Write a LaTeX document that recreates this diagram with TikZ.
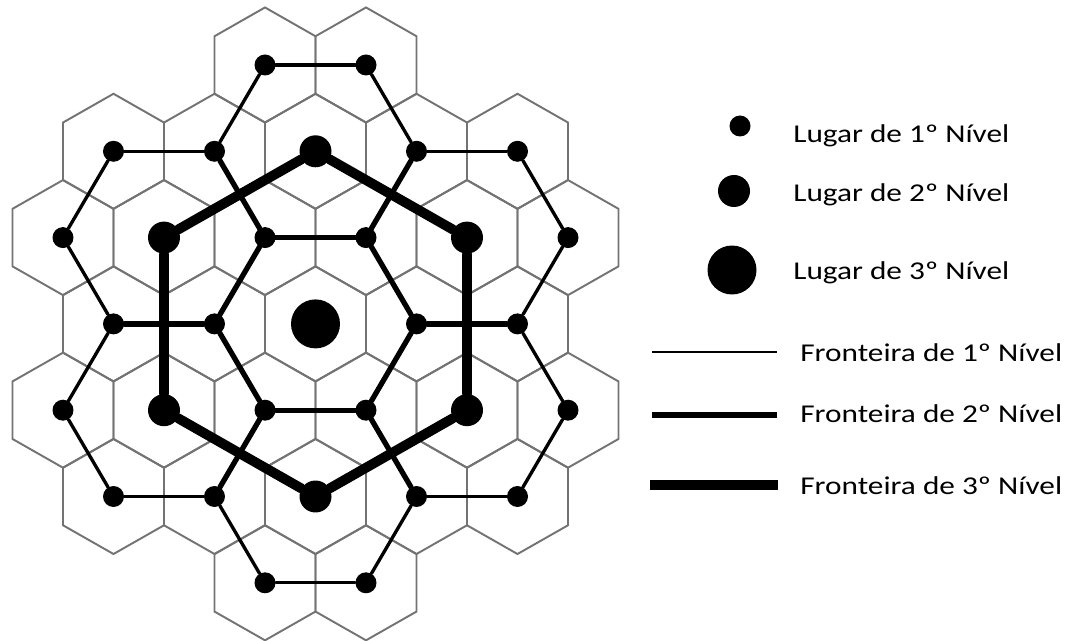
\documentclass[tikz,border=0pt]{standalone}
\usepackage{fontspec}
\setmainfont{Carlito}[FakeStretch=1.22]
\tikzset{
  cell/.style={
    draw=black!55,
    line width=1.1pt
  },
  place/.style={
    shape = circle,
    fill,
    inner sep = 0pt,
    minimum size=0.42cm
  },
  bigplace/.style={
    shape = circle,
    fill,
    inner sep = 0pt,
    minimum size=0.64cm
  },
  verybigplace/.style={
    shape = circle,
    fill,
    inner sep = 0pt,
    minimum size=0.98cm
  },
  border/.style={line width=1.9pt, line cap=round},
  thickborder/.style={line width=3pt, line cap=round},
  verythickborder/.style={line width=5.6pt, line cap=round},
  legend/.style={
    anchor=base west,
    inner sep=0pt,
    font=\fontsize{14.6}{17}\selectfont
  }
}
\begin{document}
\begin{tikzpicture}[x=0.02cm,y=-0.02cm]
            \useasboundingbox (0,0) rectangle (1072,641);
            % cells
            \foreach \a/\b in {4/0,6/0,1/1,3/1,5/1,7/1,9/1,0/2,2/2,4/2,6/2,8/2,10/2,1/3,3/3,5/3,7/3,9/3,0/4,2/4,4/4,6/4,8/4,10/4,1/5,3/5,5/5,7/5,9/5,4/6,6/6}{
                    \draw[cell] ({63+\a*50.5},{65+\b*86.3}) +(50.5,-28.77) -- +(0,-57.53) -- +(-50.5,-28.77) -- +(-50.5,28.77) -- +(0,57.53) -- +(50.5,28.77) -- cycle;
                }
            % places
            \foreach \a/\b in {4/0,6/0,1/1,3/1,7/1,9/1,0/2,4/2,6/2,10/2,1/3,3/3,7/3,9/3,0/4,4/4,6/4,10/4,1/5,3/5,7/5,9/5,4/6,6/6}{
                    \node[place] (p\a-\b) at ({63+\a*50.5},{65+\b*86.3}) {};
                }
            \foreach \a/\b in {5/1,2/2,8/2,2/4,8/4,5/5}{
                    \node[bigplace] (p\a-\b) at ({63+\a*50.5},{65+\b*86.3}) {};
                }
            \node[verybigplace] (p5-3) at ({63+5*50.5},{65+3*86.3}) {};
            % borders
            \foreach \u/\v in {4-0/6-0,6-0/7-1,3-1/4-0,7-1/9-1,9-1/10-2,10-2/9-3,9-3/10-4,10-4/9-5,9-5/7-5,7-5/6-6,6-6/4-6,4-6/3-5,3-5/1-5,1-5/0-4,0-4/1-3,1-3/0-2,0-2/1-1,1-1/3-1}{
                    \draw[border] (p\u) -- (p\v);
                }
            \foreach \u/\v in {4-2/6-2,6-2/7-3,7-3/6-4,6-4/4-4,4-4/3-3,3-3/4-2,4-2/3-1,6-2/7-1,7-3/9-3,6-4/7-5,4-4/3-5,3-3/1-3}{
                    \draw[thickborder] (p\u) -- (p\v);
                }
            \draw[verythickborder] (p5-1) -- (p8-2) -- (p8-4) -- (p5-5) -- (p2-4) -- (p2-2) -- (p5-1);
            % legend
            \node[place] (l1) at (740,126) {};
            \node[bigplace] (l2) at (734,191) {};
            \node[verybigplace] (l3) at (732,270) {};
            \node[legend] (t1) at (793,143) {Lugar de 1º Nível};
            \node[legend] (t2) at (793,202) {Lugar de 2º Nível};
            \node[legend] (t3) at (793,280) {Lugar de 3º Nível};
            \coordinate (f1a) at (652,352); \coordinate (f1b) at (777,352);
            \coordinate (f2a) at (652,415); \coordinate (f2b) at (777,415);
            \coordinate (f3a) at (650,485); \coordinate (f3b) at (778,485);
            \draw[border, line width=1.3pt, line cap=butt] (f1a) -- (f1b);
            \draw[thickborder, line cap=butt] (f2a) -- (f2b);
            \draw[verythickborder, line width=5.2pt, line cap=butt] (f3a) -- (f3b);
            \node[legend] (t4) at (800,361.5) {Fronteira de 1º Nível};
            \node[legend] (t5) at (800,423) {Fronteira de 2º Nível};
            \node[legend] (t6) at (800,495) {Fronteira de 3º Nível};
        \end{tikzpicture}
\end{document}
